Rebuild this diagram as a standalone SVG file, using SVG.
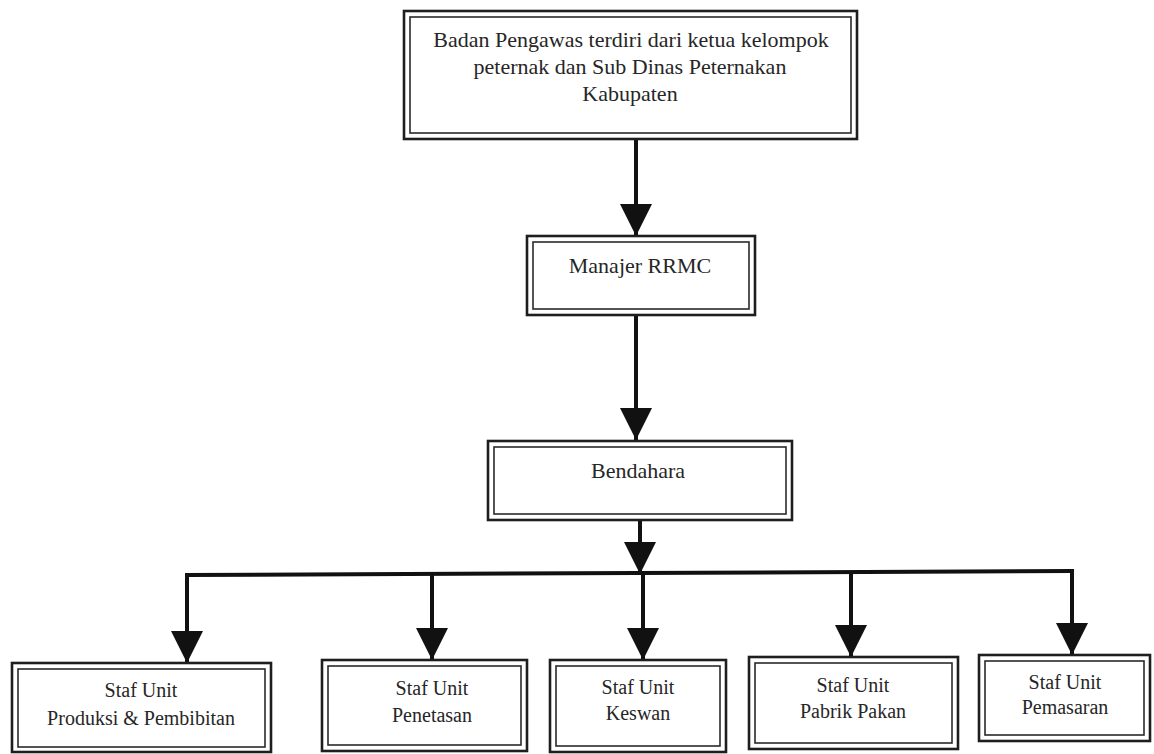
<svg xmlns="http://www.w3.org/2000/svg" width="1154" height="754" viewBox="0 0 1154 754">
<style>
.o{fill:none;stroke:#1e1e1e;stroke-width:2.6}
.i{fill:none;stroke:#2a2a2a;stroke-width:1.6}
.t{font-family:"Liberation Serif","Times New Roman",serif;fill:#262626;text-anchor:middle}
.big{font-size:22px}
.sm{font-size:20px}
.c{fill:none;stroke:#111;stroke-width:4}
</style>
<defs>
<marker id="ah" markerUnits="userSpaceOnUse" markerWidth="34" markerHeight="34" refX="32" refY="16" orient="auto">
<path d="M0,0 L32,16 L0,32 z" fill="#111"/>
</marker>
</defs>
<rect width="1154" height="754" fill="#fff"/>
<g id="connectors">
<path class="c" d="M636,139 L636,236" marker-end="url(#ah)"/>
<path class="c" d="M636,315 L636,440" marker-end="url(#ah)"/>
<path class="c" d="M640,520 L640,574" marker-end="url(#ah)"/>
<path class="c" d="M187,577 L187,575 L1072,571 L1072,573"/>
<path class="c" d="M187,575 L187,663" marker-end="url(#ah)"/>
<path class="c" d="M432,574 L432,660" marker-end="url(#ah)"/>
<path class="c" d="M643,573 L643,660" marker-end="url(#ah)"/>
<path class="c" d="M851,572 L851,657" marker-end="url(#ah)"/>
<path class="c" d="M1072,571 L1072,655" marker-end="url(#ah)"/>
</g>
<g id="badan">
<rect class="o" x="404" y="11" width="453" height="128"/>
<rect class="i" x="410" y="17" width="441" height="116"/>
<text class="t big" x="631" y="47">Badan Pengawas terdiri dari ketua kelompok</text>
<text class="t big" x="630" y="74">peternak dan Sub Dinas Peternakan</text>
<text class="t big" x="630" y="101">Kabupaten</text>
</g>
<g id="manajer">
<rect class="o" x="527" y="236" width="228" height="79"/>
<rect class="i" x="533" y="242" width="216" height="67"/>
<text class="t big" x="640" y="273">Manajer RRMC</text>
</g>
<g id="bendahara">
<rect class="o" x="488" y="441" width="304" height="79"/>
<rect class="i" x="494" y="447" width="292" height="67"/>
<text class="t big" x="638" y="478">Bendahara</text>
</g>
<g id="produksi">
<rect class="o" x="12" y="663" width="259" height="89"/>
<rect class="i" x="18" y="669" width="247" height="78"/>
<text class="t sm" x="141" y="697">Staf Unit</text>
<text class="t sm" x="141" y="725">Produksi &amp; Pembibitan</text>
</g>
<g id="penetasan">
<rect class="o" x="322" y="660" width="205" height="91"/>
<rect class="i" x="328" y="666" width="193" height="79"/>
<text class="t sm" x="432" y="695">Staf Unit</text>
<text class="t sm" x="432" y="722">Penetasan</text>
</g>
<g id="keswan">
<rect class="o" x="550" y="660" width="176" height="92"/>
<rect class="i" x="556" y="666" width="164" height="80"/>
<text class="t sm" x="638" y="694">Staf Unit</text>
<text class="t sm" x="638" y="720">Keswan</text>
</g>
<g id="pabrik">
<rect class="o" x="749" y="657" width="209" height="92"/>
<rect class="i" x="755" y="663" width="197" height="80"/>
<text class="t sm" x="853" y="692">Staf Unit</text>
<text class="t sm" x="853" y="718">Pabrik Pakan</text>
</g>
<g id="pemasaran">
<rect class="o" x="979" y="655" width="171" height="86"/>
<rect class="i" x="985" y="661" width="159" height="74"/>
<text class="t sm" x="1065" y="689">Staf Unit</text>
<text class="t sm" x="1065" y="714">Pemasaran</text>
</g>
</svg>
